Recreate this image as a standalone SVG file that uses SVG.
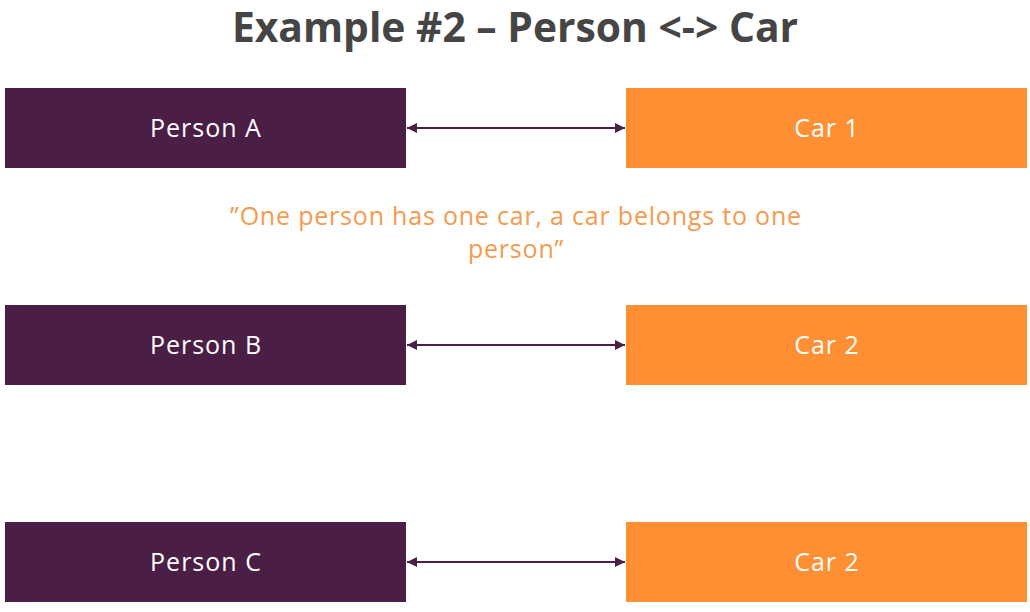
<svg xmlns="http://www.w3.org/2000/svg" width="1030" height="612" viewBox="0 0 1030 612">
<style>
.p{fill:#4b1f45}
.c{fill:#ff8f33}
.t{font-family:"Open Sans","Liberation Sans",sans-serif;font-size:25px;letter-spacing:1px;fill:#ffffff;text-anchor:middle}
.title{font-family:"Open Sans","Liberation Sans",sans-serif;font-weight:bold;font-size:40.8px;fill:#454545;text-anchor:middle}
.q{font-family:"Open Sans","Liberation Sans",sans-serif;font-size:25px;letter-spacing:0.8px;fill:#f59a4e;text-anchor:middle}
.l{stroke:#4b1f45;stroke-width:2;fill:none;marker-start:url(#a);marker-end:url(#a)}
</style>
<defs>
<marker id="a" viewBox="0 0 10 10" refX="10" refY="5" markerWidth="5" markerHeight="5" orient="auto-start-reverse">
<path d="M0,0 L10,5 L0,10 z" fill="#4b1f45"/>
</marker>
</defs>
<rect width="1030" height="612" fill="#ffffff"/>
<text class="title" x="515" y="42">Example #2 – Person &lt;-&gt; Car</text>
<text class="q" x="516" y="225">”One person has one car, a car belongs to one</text>
<text class="q" x="516" y="258">person”</text>
<g id="connectors">
<line class="l" x1="407" y1="128" x2="625" y2="128"/>
<line class="l" x1="407" y1="345" x2="625" y2="345"/>
<line class="l" x1="407" y1="562" x2="625" y2="562"/>
</g>
<g id="personA"><rect class="p" x="5" y="88" width="401" height="80"/><text class="t" x="206" y="137">Person A</text></g>
<g id="car1"><rect class="c" x="626" y="88" width="401" height="80"/><text class="t" x="827" y="137">Car 1</text></g>
<g id="personB"><rect class="p" x="5" y="305" width="401" height="80"/><text class="t" x="206" y="354">Person B</text></g>
<g id="car2a"><rect class="c" x="626" y="305" width="401" height="80"/><text class="t" x="827" y="354">Car 2</text></g>
<g id="personC"><rect class="p" x="5" y="522" width="401" height="80"/><text class="t" x="206" y="571">Person C</text></g>
<g id="car2b"><rect class="c" x="626" y="522" width="401" height="80"/><text class="t" x="827" y="571">Car 2</text></g>
</svg>
